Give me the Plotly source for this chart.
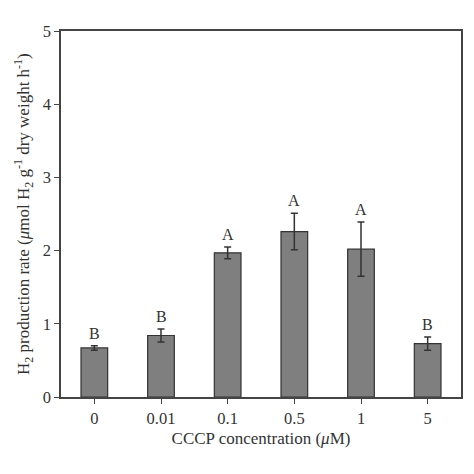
import plotly.graph_objects as go

categories = ["0", "0.01", "0.1", "0.5", "1", "5"]
values = [0.67, 0.84, 1.97, 2.26, 2.02, 0.73]
errors = [0.03, 0.09, 0.08, 0.25, 0.37, 0.09]
letters = ["B", "B", "A", "A", "A", "B"]

font_family = "Liberation Serif, Times New Roman, serif"
axis_color = "#444444"
text_color = "#333333"

fig = go.Figure()
fig.add_trace(go.Bar(
    x=categories, y=values,
    width=0.4,
    marker=dict(color="#7f7f7f", line=dict(color="#333333", width=1.2)),
    error_y=dict(type="data", array=errors, visible=True, color="#333333",
                 thickness=1.5, width=3.5),
))

for i, (v, e, t) in enumerate(zip(values, errors, letters)):
    fig.add_annotation(x=i, y=v + e, xref="x", yref="y", text=t, showarrow=False,
                       yanchor="bottom", yshift=2,
                       font=dict(family=font_family, size=16, color=text_color))

# y-axis title as a rotated annotation for precise centering
fig.add_annotation(
    text="H<sub>2</sub> production rate (<i>μ</i>mol H<sub>2</sub> g<sup>-1</sup> dry weight h<sup>-1</sup>)",
    xref="paper", yref="paper", x=-0.095, y=0.5, xanchor="center", yanchor="middle",
    textangle=-90, showarrow=False,
    font=dict(family=font_family, size=17, color=text_color),
)

# page body has an 8px default margin; compensate so the plot area sits where the reference has it
fig.update_layout(
    width=466, height=466,
    margin=dict(l=53, r=11, t=23, b=77),
    paper_bgcolor="white", plot_bgcolor="white",
    showlegend=False,
    font=dict(family=font_family, size=16, color=text_color),
)
fig.update_xaxes(
    type="category",
    showline=True, linecolor=axis_color, linewidth=1.5, mirror=True,
    ticks="outside", ticklen=5, tickcolor=axis_color,
    tickfont=dict(family=font_family, size=16.5, color=text_color),
    title=dict(text="CCCP concentration (<i>μ</i>M)", standoff=6,
               font=dict(family=font_family, size=17, color=text_color)),
    showgrid=False,
)
fig.update_yaxes(
    range=[0, 5], tickvals=[0, 1, 2, 3, 4, 5],
    showline=True, linecolor=axis_color, linewidth=1.5, mirror=True,
    ticks="outside", ticklen=5, tickcolor=axis_color,
    tickfont=dict(family=font_family, size=16.5, color=text_color),
    showgrid=False, zeroline=False,
)

fig.write_html("out.html")
